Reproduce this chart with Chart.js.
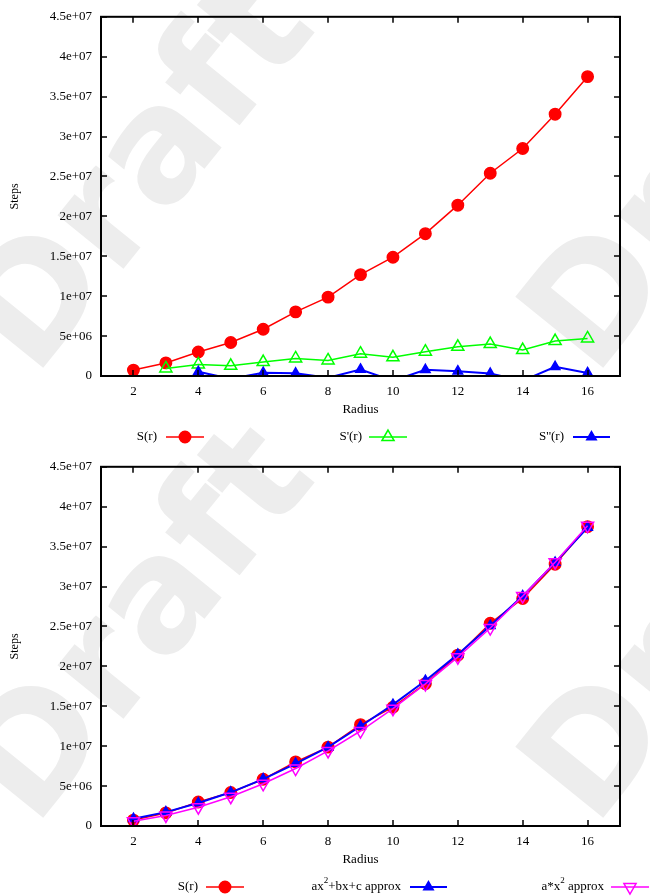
<!DOCTYPE html>
<html>
<head>
<meta charset="utf-8">
<script src="https://cdn.jsdelivr.net/npm/chart.js@4/dist/chart.umd.min.js"></script>
<style>
    html, body { margin: 0; padding: 0; background: #fff; }
    #page { position: relative; width: 650px; height: 896px; overflow: hidden; }
    #watermark { position: absolute; left: 0; top: 0; }
    .panel { position: absolute; left: 0; width: 650px; height: 450px; }
</style>
</head>
<body>
<div id="page">
    <canvas id="watermark" width="650" height="896"></canvas>
    <div class="panel" style="top:0"><canvas id="chartTop" width="650" height="450"></canvas></div>
    <div class="panel" style="top:450px"><canvas id="chartBottom" width="650" height="450"></canvas></div>
</div>
<script>
// data
const radius = [2, 3, 4, 5, 6, 7, 8, 9, 10, 11, 12, 13, 14, 15, 16];
const radiusD1 = [3, 4, 5, 6, 7, 8, 9, 10, 11, 12, 13, 14, 15, 16];
const radiusD2 = [4, 5, 6, 7, 8, 9, 10, 11, 12, 13, 14, 15, 16];

const stepsS = [740000, 1640000, 3000000, 4200000, 5860000, 8030000, 9880000, 12700000,
    14880000, 17830000, 21400000, 25400000, 28500000, 32800000, 37500000];
const stepsD1 = [950000, 1450000, 1280000, 1750000, 2200000, 1950000, 2800000, 2340000,
    3050000, 3650000, 4000000, 3250000, 4380000, 4700000];
const stepsD2 = [530000, -350000, 410000, 330000, -220000, 820000, -600000, 780000,
    600000, 300000, -600000, 1150000, 380000];
const quadFit = [920000, 1740000, 2880000, 4220000, 5880000, 7820000, 9880000, 12500000,
    15200000, 18200000, 21500000, 25100000, 28800000, 33000000, 37400000];
const squareFit = [590000, 1320000, 2350000, 3670000, 5290000, 7200000, 9400000, 11900000,
    14700000, 17800000, 21150000, 24800000, 28800000, 33050000, 37600000];

const xTicks = [2, 4, 6, 8, 10, 12, 14, 16];
const yTicks = [0, 5e6, 1e7, 1.5e7, 2e7, 2.5e7, 3e7, 3.5e7, 4e7, 4.5e7];

const FONT = '"Liberation Serif", "Times New Roman", serif';

const styles = {
    s:      { color: '#ff0000', pointStyle: 'circle',   radius: 5.7, rotation: 0,   filled: true,  width: 1.5 },
    d1:     { color: '#00ff00', pointStyle: 'triangle', radius: 7,   rotation: 0,   filled: false, width: 1.5 },
    d2:     { color: '#0000ff', pointStyle: 'triangle', radius: 5.5, rotation: 0,   filled: true,  width: 2 },
    quad:   { color: '#0000ff', pointStyle: 'triangle', radius: 5.5, rotation: 0,   filled: true,  width: 2 },
    square: { color: '#ff00ff', pointStyle: 'triangle', radius: 7,   rotation: 180, filled: false, width: 1.5 }
};

function toPoints(xs, ys) {
    return xs.map((x, i) => ({ x: x, y: ys[i] }));
}

function makeDataset(label, xs, ys, style, order) {
    return {
        label: label,
        data: toPoints(xs, ys),
        borderColor: style.color,
        borderWidth: style.width,
        pointStyle: style.pointStyle,
        pointRotation: style.rotation,
        pointRadius: ctx => (ctx.raw && ctx.raw.y < 0 ? 0 : style.radius),
        pointHoverRadius: style.radius,
        pointBorderWidth: 1.5,
        pointBorderColor: style.color,
        pointBackgroundColor: style.filled ? style.color : 'rgba(0,0,0,0)',
        tension: 0,
        order: order,
        legendStyle: style
    };
}

function sciLabel(v) {
    if (v === 0) return '0';
    const parts = v.toExponential().split('e');
    const ex = parseInt(parts[1], 10);
    return parts[0] + 'e' + (ex < 0 ? '-' : '+') + String(Math.abs(ex)).padStart(2, '0');
}

// watermark drawn behind both charts
function drawWatermark() {
    const ctx = document.getElementById('watermark').getContext('2d');
    ctx.fillStyle = '#ededed';
    ctx.font = 'bold 155px "DejaVu Sans"';
    ctx.textAlign = 'center';
    ctx.textBaseline = 'middle';
    [0, 450].forEach(off => {
        [145, 705].forEach(cx => {
            ctx.save();
            ctx.translate(cx, 178 + off);
            ctx.rotate(-51 * Math.PI / 180);
            ctx.fillText('Draft', 0, 0);
            ctx.restore();
        });
    });
}

// gnuplot style frame with inward ticks on all four sides
const framePlugin = {
    id: 'frame',
    afterDatasetsDraw(chart) {
        const { ctx, chartArea: a, scales: { x, y } } = chart;
        const len = 6;
        ctx.save();
        ctx.strokeStyle = '#000';
        ctx.lineWidth = 1.5;
        ctx.beginPath();
        x.ticks.forEach(t => {
            const px = Math.round(x.getPixelForValue(t.value));
            ctx.moveTo(px, a.bottom); ctx.lineTo(px, a.bottom - len);
            ctx.moveTo(px, a.top); ctx.lineTo(px, a.top + len);
        });
        y.ticks.forEach(t => {
            const py = Math.round(y.getPixelForValue(t.value));
            ctx.moveTo(a.left, py); ctx.lineTo(a.left + len, py);
            ctx.moveTo(a.right, py); ctx.lineTo(a.right - len, py);
        });
        ctx.stroke();
        ctx.lineWidth = 2;
        ctx.strokeRect(a.left, a.top, a.right - a.left, a.bottom - a.top);
        ctx.restore();
    }
};

// key drawn like gnuplot: text, then a line sample with its marker
function drawLabel(ctx, text, xRight, y) {
    const parts = text.split('²');
    const mainFont = '13px ' + FONT;
    const supFont = '9px ' + FONT;
    let total = 0;
    parts.forEach((p, i) => {
        ctx.font = mainFont;
        total += ctx.measureText(p).width;
        if (i < parts.length - 1) {
            ctx.font = supFont;
            total += ctx.measureText('2').width;
        }
    });
    let x = xRight - total;
    ctx.textAlign = 'left';
    ctx.textBaseline = 'middle';
    parts.forEach((p, i) => {
        ctx.font = mainFont;
        ctx.fillText(p, x, y);
        x += ctx.measureText(p).width;
        if (i < parts.length - 1) {
            ctx.font = supFont;
            ctx.fillText('2', x, y - 6);
            x += ctx.measureText('2').width;
        }
    });
}

const keyPlugin = {
    id: 'key',
    afterDraw(chart, args, opts) {
        const { ctx } = chart;
        const y = opts.y;
        ctx.save();
        chart.data.datasets.forEach((ds, i) => {
            const item = opts.items[i];
            const st = ds.legendStyle;
            ctx.fillStyle = '#000';
            drawLabel(ctx, ds.label, item.textRight, y);
            ctx.strokeStyle = st.color;
            ctx.lineWidth = st.width;
            ctx.beginPath();
            ctx.moveTo(item.lineStart, y);
            ctx.lineTo(item.lineEnd, y);
            ctx.stroke();
            ctx.fillStyle = st.filled ? st.color : 'rgba(0,0,0,0)';
            ctx.lineWidth = 1.5;
            Chart.helpers.drawPoint(ctx, {
                pointStyle: st.pointStyle,
                radius: st.radius,
                rotation: st.rotation,
                borderWidth: 1.5
            }, (item.lineStart + item.lineEnd) / 2, y);
        });
        ctx.restore();
    }
};

function makeOptions(keyItems) {
    return {
        responsive: false,
        animation: false,
        events: [],
        layout: { padding: { left: 0, right: 30, top: 10, bottom: 34 } },
        plugins: {
            legend: { display: false },
            tooltip: { enabled: false },
            key: { y: 437, items: keyItems }
        },
        scales: {
            x: {
                type: 'linear',
                min: 1,
                max: 17,
                afterBuildTicks: axis => { axis.ticks = xTicks.map(v => ({ value: v })); },
                afterFit: axis => { axis.height = 40; },
                grid: { display: false, drawTicks: false },
                border: { display: false },
                ticks: {
                    color: '#000',
                    padding: 8,
                    maxRotation: 0,
                    font: { family: FONT, size: 13 }
                },
                title: {
                    display: true,
                    text: 'Radius',
                    color: '#000',
                    padding: { top: 0, bottom: -1 },
                    font: { family: FONT, size: 13 }
                }
            },
            y: {
                type: 'linear',
                min: 0,
                max: 4.5e7,
                afterBuildTicks: axis => { axis.ticks = yTicks.map(v => ({ value: v })); },
                afterFit: axis => { axis.width = 101; },
                grid: { display: false, drawTicks: false },
                border: { display: false },
                ticks: {
                    color: '#000',
                    padding: 9,
                    callback: v => sciLabel(v),
                    font: { family: FONT, size: 13 }
                },
                title: {
                    display: true,
                    text: 'Steps',
                    color: '#000',
                    padding: { top: 8, bottom: 0 },
                    font: { family: FONT, size: 12 }
                }
            }
        }
    };
}

drawWatermark();

new Chart(document.getElementById('chartTop'), {
    type: 'line',
    data: {
        datasets: [
            makeDataset('S(r)', radius, stepsS, styles.s, 3),
            makeDataset("S'(r)", radiusD1, stepsD1, styles.d1, 2),
            makeDataset("S''(r)", radiusD2, stepsD2, styles.d2, 1)
        ]
    },
    options: makeOptions([
        { textRight: 157, lineStart: 166, lineEnd: 204 },
        { textRight: 362, lineStart: 369, lineEnd: 407 },
        { textRight: 564, lineStart: 573, lineEnd: 610 }
    ]),
    plugins: [framePlugin, keyPlugin]
});

new Chart(document.getElementById('chartBottom'), {
    type: 'line',
    data: {
        datasets: [
            makeDataset('S(r)', radius, stepsS, styles.s, 3),
            makeDataset('ax²+bx+c approx', radius, quadFit, styles.quad, 2),
            makeDataset('a*x² approx', radius, squareFit, styles.square, 1)
        ]
    },
    options: makeOptions([
        { textRight: 198, lineStart: 206, lineEnd: 244 },
        { textRight: 401, lineStart: 410, lineEnd: 447 },
        { textRight: 604, lineStart: 611, lineEnd: 649 }
    ]),
    plugins: [framePlugin, keyPlugin]
});
</script>
</body>
</html>
